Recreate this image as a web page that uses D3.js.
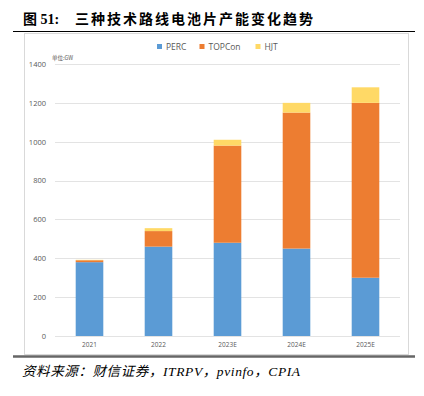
<!DOCTYPE html>
<html><head><meta charset="utf-8">
<script src="https://cdn.jsdelivr.net/npm/d3@7"></script>
<style>body{margin:0;background:#fff}svg{display:block}</style>
</head><body>
<script>
const categories = ["2021","2022","2023E","2024E","2025E"];
const seriesNames = ["PERC","TOPCon","HJT"];
const perc = [380,460,480,450,300];
const topcon = [10,80,500,700,900];
const hjt = [2,15,30,50,80];
const yTicks = [0,200,400,600,800,1000,1200,1400];
const colors = ["#5B9BD5","#ED7D31","#FFD966"];

const W=424,H=396;
const svg=d3.select("body").append("svg").attr("width",W).attr("height",H);

const t=svg.append("text").attr("x",23).attr("y",24)
  .attr("font-family","'Noto Sans CJK SC'").attr("font-weight","bold").attr("fill","#000");
t.append("tspan").attr("font-size",14).attr("font-family","'Liberation Serif','Noto Sans CJK SC'").text("图 51:");
t.append("tspan").attr("x",75).attr("font-size",14).attr("letter-spacing",2).text("三种技术路线电池片产能变化趋势");
svg.append("line").attr("x1",13).attr("x2",415).attr("y1",31.5).attr("y2",31.5).attr("stroke","#000").attr("stroke-width",1.2);

svg.append("rect").attr("x",24.5).attr("y",33.5).attr("width",384).attr("height",321).attr("fill","#fff").attr("stroke","#d9d9d9");
svg.append("line").attr("x1",13).attr("x2",415).attr("y1",356.5).attr("y2",356.5).attr("stroke","#666").attr("stroke-width",2.5);

const x=d3.scaleBand().domain(categories).range([55,400]).paddingInner(0.6).paddingOuter(0.3);
const y=d3.scaleLinear().domain([0,1400]).range([336,64]);

const g=svg.append("g");
g.selectAll("line.grid").data(yTicks).join("line").attr("class","grid")
  .attr("x1",55).attr("x2",400).attr("y1",d=>Math.round(y(d))+0.5).attr("y2",d=>Math.round(y(d))+0.5)
  .attr("stroke","#e3e3e3").attr("stroke-width",1);

const yAxis=d3.axisLeft(y).tickValues(yTicks).tickFormat(d3.format("d")).tickSize(0).tickPadding(0);
const ya=svg.append("g").attr("transform","translate(46,0)").call(yAxis);
ya.select(".domain").remove();
ya.selectAll("text").attr("font-family","'Open Sans'").attr("font-size",7.5).attr("fill","#595959");

const xAxis=d3.axisBottom(x).tickSize(0).tickPadding(0);
const xa=svg.append("g").attr("transform","translate(0,342)").call(xAxis);
xa.select(".domain").remove();
xa.selectAll("text").attr("font-family","'Open Sans'").attr("font-size",6.5).attr("fill","#595959");

const table=categories.map((c,i)=>({cat:c,PERC:perc[i],TOPCon:topcon[i],HJT:hjt[i]}));
const stack=d3.stack().keys(seriesNames)(table);
stack.forEach((s,si)=>{
  svg.append("g").selectAll("rect").data(s).join("rect")
    .attr("x",d=>x(d.data.cat)).attr("width",x.bandwidth())
    .attr("y",d=>y(d[1])).attr("height",d=>y(d[0])-y(d[1]))
    .attr("fill",colors[si]);
});

svg.append("text").attr("x",52).attr("y",60).attr("font-family","'Noto Sans CJK SC'").attr("font-size",5.5).attr("fill","#595959").text("单位:GW");

const legX=[157,199.5,255.5];
seriesNames.forEach((n,i)=>{
  svg.append("rect").attr("x",legX[i]).attr("y",44).attr("width",5).attr("height",5).attr("fill",colors[i]);
  svg.append("text").attr("x",legX[i]+9).attr("y",49.8).attr("font-family","'Open Sans'").attr("font-size",8.5).attr("fill","#595959").text(n);
});

svg.append("text").attr("x",22).attr("y",376).attr("font-family","'Liberation Serif','Noto Sans CJK SC'").attr("font-style","italic").attr("font-size",13.5).attr("letter-spacing",0.6).attr("fill","#000")
  .text("资料来源：财信证券，ITRPV，pvinfo，CPIA");
</script>
</body></html>
